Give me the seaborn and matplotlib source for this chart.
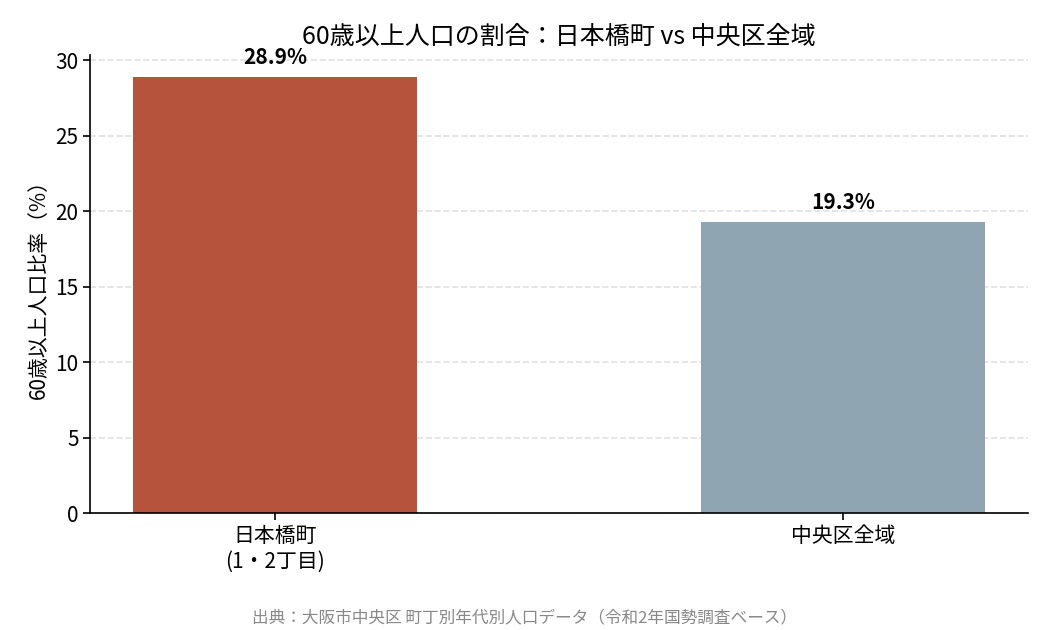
import matplotlib.pyplot as plt
import seaborn as sns
import pandas as pd

# Values
categories = ["日本橋町\n(1・2丁目)", "中央区全域"]
ratios = [28.9, 19.3]
bar_colors = ["#B5533C", "#8FA5B2"]

title = "60歳以上人口の割合：日本橋町 vs 中央区全域"
ylabel = "60歳以上人口比率（%）"
source = "出典：大阪市中央区 町丁別年代別人口データ（令和2年国勢調査ベース）"

sns.set_style("white")
plt.rcParams['font.family'] = ['Noto Sans CJK JP', 'DejaVu Sans']
plt.rcParams['text.color'] = 'black'
plt.rcParams['axes.labelcolor'] = 'black'
plt.rcParams['xtick.color'] = 'black'
plt.rcParams['ytick.color'] = 'black'
plt.rcParams['axes.edgecolor'] = 'black'

df = pd.DataFrame({"area": categories, "ratio": ratios})

fig, ax = plt.subplots(figsize=(10.5, 6.3), dpi=100)
sns.barplot(data=df, x="area", y="ratio", hue="area", palette=bar_colors,
            width=0.5, legend=False, saturation=1, linewidth=0, ax=ax)

for i, v in enumerate(ratios):
    ax.text(i, v + 0.55, f"{v}%", ha="center", va="bottom",
            fontsize=15, fontweight="bold")

ax.set_xlim(-0.325, 1.325)
ax.set_ylim(0, max(ratios) * 1.05)
ax.set_xlabel("")
ax.set_ylabel(ylabel, fontsize=15)
ax.set_title(title, fontsize=18, pad=8)
ax.tick_params(axis="both", labelsize=15, length=5, width=1.2, left=True, bottom=True)
for s in ax.spines.values():
    s.set_linewidth(1.2)
ax.grid(axis="y", linestyle="--", color="#cccccc", alpha=0.6, linewidth=1.2)
ax.set_axisbelow(True)
sns.despine(ax=ax)

fig.text(0.5, 0.019, source, ha="center", va="center", fontsize=12, color="#888888")

plt.subplots_adjust(left=0.086, right=0.979, top=0.913, bottom=0.185)
plt.savefig("out.png", dpi=100)
